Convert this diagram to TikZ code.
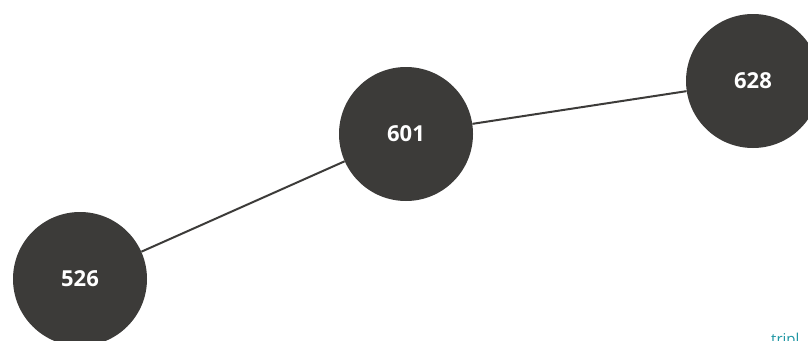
\documentclass[tikz,border=0pt]{standalone}
\usepackage{fontspec}
\setmainfont{Open Sans}
\definecolor{nodegray}{HTML}{3C3B39}
\definecolor{markteal}{HTML}{1E96A3}

\begin{document}
\begin{tikzpicture}[x=1pt, y=-1pt,
		num/.style={circle, fill=nodegray, minimum size=134pt, inner sep=0pt, text=white, font=\bfseries\fontsize{22}{24}\selectfont}]
			\useasboundingbox (0,0) rectangle (808,340);
			\node[num]  (n526)  at (80,279)  {526};
			\node[num]  (n601)  at (406,134) {601};
			\node[num]  (n628)  at (753,81)  {628};
			\node[anchor=north west, inner sep=0pt, text=markteal, font=\fontsize{15}{17}\selectfont] (mark) at (771,333) {tripl};
			
			\draw[line width=2pt, nodegray] (n526) -- (n601);
			\draw[line width=2pt, nodegray] (n601) -- (n628);
		\end{tikzpicture}
\end{document}
